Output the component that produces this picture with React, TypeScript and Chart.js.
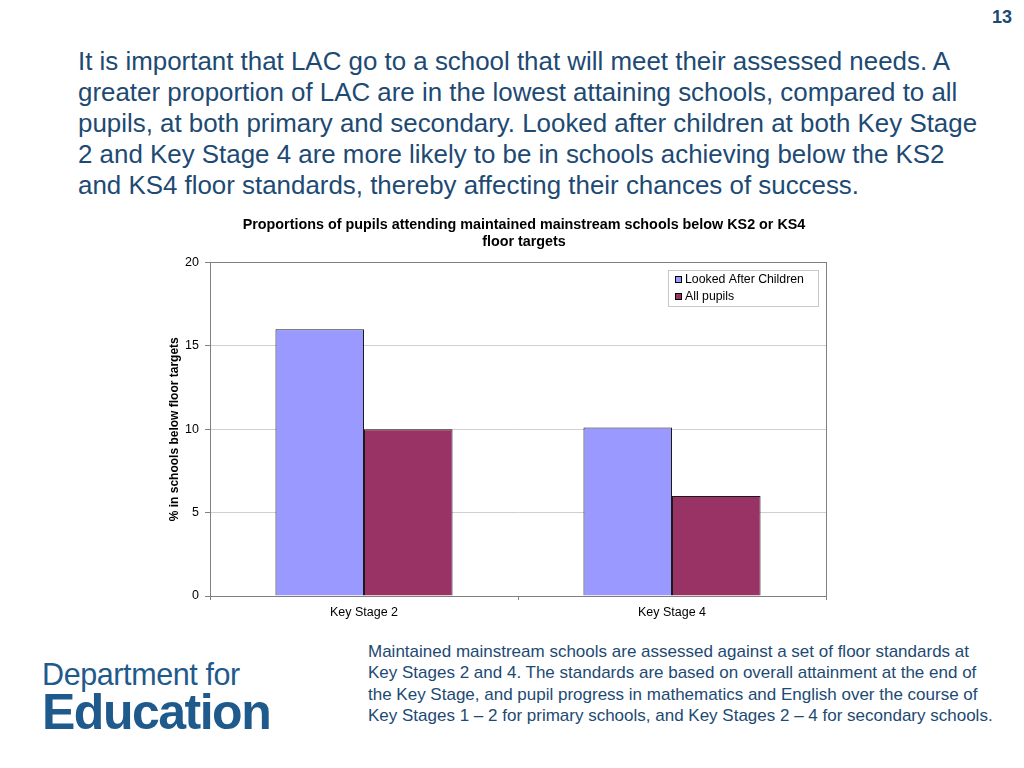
import React, { useEffect, useRef } from "react";
import { Chart, registerables } from "chart.js";

Chart.register(...registerables);

const categories = ["Key Stage 2", "Key Stage 4"];
const lacValues = [16.0, 10.1];
const allPupilsValues = [10.0, 6.0];
const seriesNames = ["Looked After Children", "All pupils"];
const yTicks = [0, 5, 10, 15, 20];

const FONT = "'Liberation Sans', Arial, Helvetica, sans-serif";
const TEXT_BLUE = "#1d4a73";

const headlineLines = [
  "It is important that LAC go to a school that will meet their assessed needs. A",
  "greater proportion of LAC are in the lowest attaining schools, compared to all",
  "pupils, at both primary and secondary. Looked after children at both Key Stage",
  "2 and Key Stage 4 are more likely to be in schools achieving below the KS2",
  "and KS4 floor standards, thereby affecting their chances of success.",
];

const noteLines = [
  "Maintained mainstream schools are assessed against a set of floor standards at",
  "Key Stages 2 and 4. The standards are based on overall attainment at the end of",
  "the Key Stage, and pupil progress in mathematics and English over the course of",
  "Key Stages 1 \u2013 2 for primary schools, and Key Stages 2 \u2013 4 for secondary schools.",
];

const frameAndLegend = {
  id: "frameAndLegend",
  afterLayout(chart: any) {
    const t = chart.titleBlock;
    if (t) {
      t.left += 36;
      t.right += 36;
    }
  },
  afterDraw(chart: any) {
    const { ctx, chartArea } = chart;
    ctx.save();
    ctx.strokeStyle = "#808080";
    ctx.lineWidth = 1;
    ctx.strokeRect(
      Math.round(chartArea.left) + 0.5,
      Math.round(chartArea.top) + 0.5,
      Math.round(chartArea.right - chartArea.left),
      Math.round(chartArea.bottom - chartArea.top)
    );
    // legend box inside chart area (top-right)
    const w = 150;
    const h = 36;
    const x = Math.round(chartArea.right) - 8 - w;
    const y = Math.round(chartArea.top) + 8;
    ctx.fillStyle = "#ffffff";
    ctx.fillRect(x, y, w, h);
    ctx.strokeStyle = "#c8c8c8";
    ctx.strokeRect(x + 0.5, y + 0.5, w, h);
    ctx.font = `12.3px ${FONT}`;
    ctx.textBaseline = "middle";
    chart.data.datasets.forEach((ds: any, i: number) => {
      const cy = y + 10 + i * 17;
      ctx.fillStyle = ds.backgroundColor;
      ctx.fillRect(x + 7, cy - 4, 7, 7);
      ctx.strokeStyle = "#000";
      ctx.strokeRect(x + 7.5, cy - 3.5, 6, 6);
      ctx.fillStyle = "#000";
      ctx.fillText(ds.label, x + 17, cy);
    });
    ctx.restore();
  },
};

function BarChart() {
  const ref = useRef<HTMLCanvasElement>(null);
  useEffect(() => {
    if (!ref.current) return;
    const chart = new Chart(ref.current, {
      type: "bar",
      data: {
        labels: categories,
        datasets: [
          {
            label: seriesNames[0],
            data: lacValues,
            backgroundColor: "#9999ff",
            borderColor: "#1a1a1a",
            borderWidth: 1,
          },
          {
            label: seriesNames[1],
            data: allPupilsValues,
            backgroundColor: "#993366",
            borderColor: "#1a1a1a",
            borderWidth: 1,
          },
        ],
      },
      options: {
        animation: false,
        responsive: false,
        maintainAspectRatio: false,
        layout: { padding: { top: 0, right: 24, bottom: 0, left: 0 } },
        datasets: { bar: { categoryPercentage: 0.575, barPercentage: 1.0 } },
        plugins: {
          legend: { display: false },
          tooltip: { enabled: false },
          title: {
            display: true,
            text: [
              "Proportions of pupils attending maintained mainstream schools below KS2 or KS4",
              "floor targets",
            ],
            color: "#000",
            font: { family: FONT, size: 14.35, weight: "bold", lineHeight: 1.2 },
            padding: { top: 6, bottom: 12 },
          },
        },
        scales: {
          x: {
            afterFit: (s: any) => {
              s.height = 34;
            },
            grid: {
              offset: true,
              drawOnChartArea: false,
              drawTicks: true,
              tickLength: 4,
              color: "#808080",
            },
            border: { display: true, color: "#808080" },
            ticks: { color: "#000", font: { family: FONT, size: 12.5 }, padding: 5 },
          },
          y: {
            min: 0,
            max: 20,
            afterFit: (s: any) => {
              s.width = 60;
            },
            afterBuildTicks: (s: any) => {
              s.ticks = yTicks.map((v) => ({ value: v }));
            },
            grid: { color: "#d0d0d0", tickLength: 5, tickColor: "#808080" },
            border: { display: true, color: "#808080" },
            ticks: { color: "#000", font: { family: FONT, size: 12.5 }, padding: 6 },
            title: {
              display: true,
              text: "% in schools below floor targets",
              color: "#000",
              font: { family: FONT, size: 12, weight: "bold" },
              padding: { top: 17, bottom: 0 },
            },
          },
        },
      },
      plugins: [frameAndLegend],
    });
    return () => chart.destroy();
  }, []);
  return <canvas ref={ref} width={700} height={420} style={{ width: 700, height: 420, display: "block" }} />;
}

export default function App() {
  return (
    <div
      style={{
        position: "absolute",
        left: 0,
        top: 0,
        width: 1024,
        height: 768,
        background: "#fff",
        fontFamily: FONT,
        overflow: "hidden",
      }}
    >
      <div style={{ position: "absolute", left: 992, top: 7, fontSize: 18, fontWeight: "bold", color: TEXT_BLUE }}>
        13
      </div>
      <div
        style={{
          position: "absolute",
          left: 78,
          top: 46,
          fontSize: 25.9,
          lineHeight: "31px",
          color: TEXT_BLUE,
          whiteSpace: "nowrap",
        }}
      >
        {headlineLines.map((l, i) => (
          <div key={i}>{l}</div>
        ))}
      </div>
      <div style={{ position: "absolute", left: 150, top: 210 }}>
        <BarChart />
      </div>
      <div
        style={{
          position: "absolute",
          left: 368,
          top: 641,
          fontSize: 17,
          lineHeight: "21.3px",
          color: TEXT_BLUE,
          whiteSpace: "nowrap",
        }}
      >
        {noteLines.map((l, i) => (
          <div key={i}>{l}</div>
        ))}
      </div>
      <div style={{ position: "absolute", left: 42, top: 658, color: "#1f5a8c", whiteSpace: "nowrap" }}>
        <div style={{ fontSize: 30.5, lineHeight: "32px", letterSpacing: -0.4 }}>Department for</div>
        <div style={{ fontSize: 50, lineHeight: "44px", fontWeight: "bold", letterSpacing: -1.5 }}>Education</div>
      </div>
    </div>
  );
}
